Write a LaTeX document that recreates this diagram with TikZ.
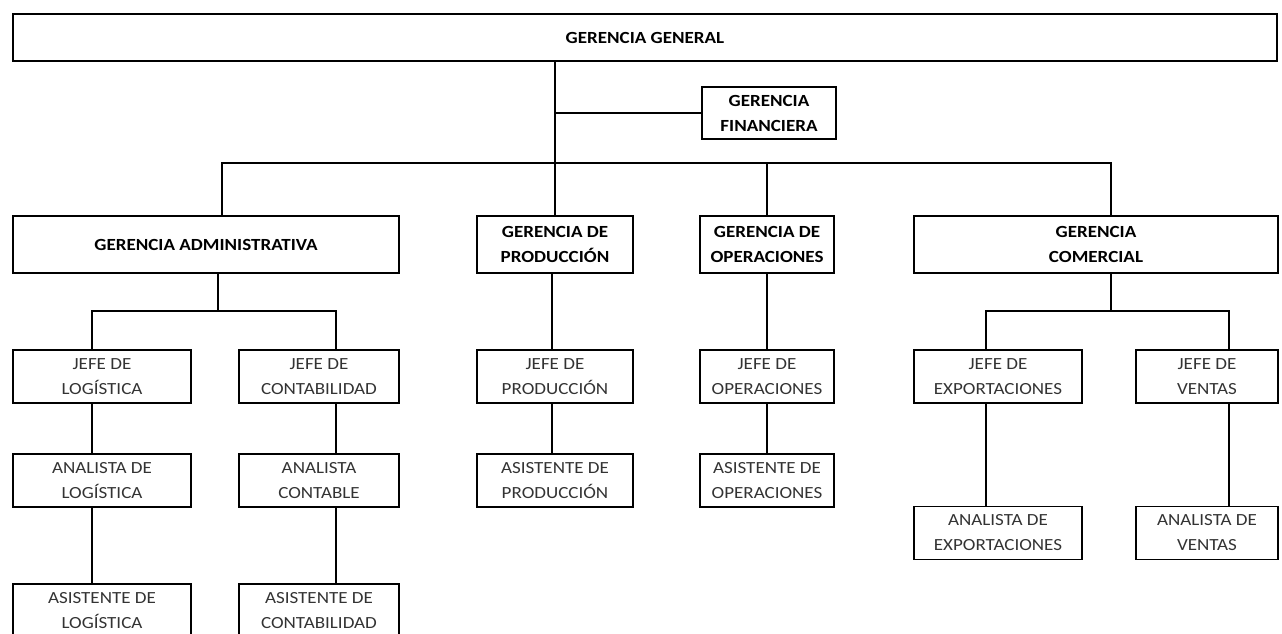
\documentclass[tikz,border=0pt]{standalone}
\usepackage{fontspec}
\setmainfont{Carlito}[FakeStretch=1.12]
\begin{document}
\begin{tikzpicture}[x=1pt,y=-1pt,line width=1.8pt,
 box/.style={draw,align=center,inner sep=0pt,minimum height=53,font=\fontsize{17}{25}\selectfont,text=black!80},
 gbox/.style={box,minimum height=57,font=\fontsize{17}{25}\selectfont\bfseries,text=black}]
\useasboundingbox (0,0) rectangle (1282,634);
\node[gbox,minimum width=1264,minimum height=47] (gg) at (645,37.5){GERENCIA GENERAL};
\node[gbox,minimum width=134,minimum height=52] (gf) at (769,113){GERENCIA\\FINANCIERA};
\node[gbox,minimum width=386] (ga) at (206,244.5){GERENCIA ADMINISTRATIVA};
\node[gbox,minimum width=156] (gp) at (555,244.5){GERENCIA DE\\PRODUCCIÓN};
\node[gbox,minimum width=134] (go) at (767,244.5){GERENCIA DE\\OPERACIONES};
\node[gbox,minimum width=364] (gc) at (1096,244.5){GERENCIA\\COMERCIAL};
\node[box,minimum width=178] (jl) at (102,376.5){JEFE DE\\LOGÍSTICA};
\node[box,minimum width=160] (jc) at (319,376.5){JEFE DE\\CONTABILIDAD};
\node[box,minimum width=156] (jp) at (555,376.5){JEFE DE\\PRODUCCIÓN};
\node[box,minimum width=134] (jo) at (767,376.5){JEFE DE\\OPERACIONES};
\node[box,minimum width=168] (je) at (998,376.5){JEFE DE\\EXPORTACIONES};
\node[box,minimum width=142] (jv) at (1207,376.5){JEFE DE\\VENTAS};
\node[box,minimum width=178] (al) at (102,480.5){ANALISTA DE\\LOGÍSTICA};
\node[box,minimum width=160] (ac) at (319,480.5){ANALISTA\\CONTABLE};
\node[box,minimum width=156] (sp) at (555,480.5){ASISTENTE DE\\PRODUCCIÓN};
\node[box,minimum width=134] (so) at (767,480.5){ASISTENTE DE\\OPERACIONES};
\node[box,minimum width=168] (ae) at (998,533){ANALISTA DE\\EXPORTACIONES};
\node[box,minimum width=142] (av) at (1207,533){ANALISTA DE\\VENTAS};
\node[box,minimum width=178] (sl) at (102,610.5){ASISTENTE DE\\LOGÍSTICA};
\node[box,minimum width=160] (sc) at (319,610.5){ASISTENTE DE\\CONTABILIDAD};
\coordinate (bus) at (555,163);\coordinate (sa) at (218,311);\coordinate (sb) at (1111,311);
\draw (gg.south -| gp) -- (gp.north);\draw (gf.west) -- (gf.west -| gp);
\draw ([xshift=16]ga.north) |- (bus) -| ([xshift=15]gc.north);\draw (bus -| go) -- (go.north);
\draw (ga.south -| sa) -- (sa);\draw ([xshift=-10]jl.north) |- (sa) -| ([xshift=17]jc.north);
\draw (gc.south -| sb) -- (sb);\draw ([xshift=-12]je.north) |- (sb) -| ([xshift=22]jv.north);
\foreach \a/\b/\s in {jl/al/-10,al/sl/-10,jc/ac/17,ac/sc/17,gp/jp/-3,jp/sp/-3,go/jo/0,jo/so/0,je/ae/-12,jv/av/22}
 \draw ([xshift=\s]\a.south) -- ([xshift=\s]\b.north);
\end{tikzpicture}
\end{document}
